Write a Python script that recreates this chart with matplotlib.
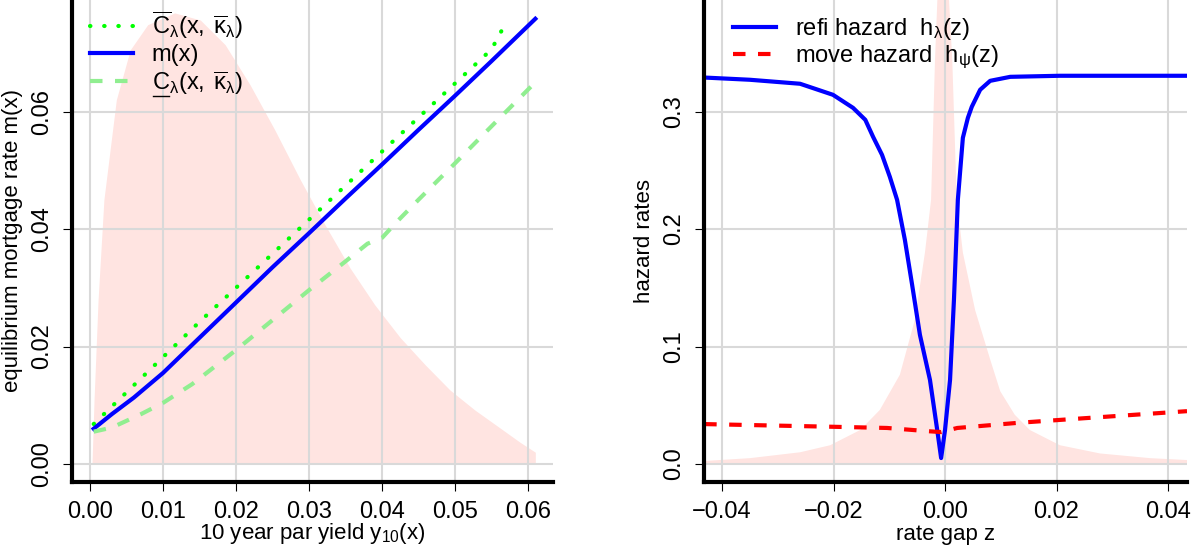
import numpy as np
import matplotlib
matplotlib.use('Agg')
import matplotlib.pyplot as plt
from matplotlib.lines import Line2D

plt.rcParams['font.family'] = ['Liberation Sans', 'DejaVu Sans']
plt.rcParams['mathtext.fontset'] = 'custom'
plt.rcParams['mathtext.rm'] = 'Liberation Sans'
plt.rcParams['mathtext.it'] = 'Liberation Sans'
plt.rcParams['mathtext.bf'] = 'Liberation Sans:bold'

# left panel: yield density (shaded) and mortgage rate curves
dens_x = [0.00027, 0.00055, 0.0011, 0.0019, 0.0036, 0.0055, 0.0079, 0.0116, 0.0151,
          0.0185, 0.0219, 0.0253, 0.0288, 0.0322, 0.0356, 0.0390, 0.0425, 0.0459,
          0.0493, 0.0527, 0.0562, 0.0589, 0.0610]
dens_y = [0.0, 0.0109, 0.0279, 0.0450, 0.0620, 0.0705, 0.0748, 0.0768, 0.0756,
          0.0714, 0.0646, 0.0569, 0.0484, 0.0407, 0.0334, 0.0271, 0.0215, 0.0169,
          0.0126, 0.0092, 0.0061, 0.0037, 0.0020]

cup_x = [0.0005, 0.005, 0.01, 0.015, 0.02, 0.025, 0.03, 0.035, 0.04, 0.045, 0.05, 0.055, 0.057]
cup_y = [0.0068, 0.0122, 0.0182, 0.0242, 0.030, 0.0358, 0.0416, 0.0474, 0.0532, 0.059,
         0.0648, 0.0706, 0.0752]

m_x = [0.0005, 0.003, 0.006, 0.01, 0.015, 0.02, 0.025, 0.03, 0.035, 0.04, 0.045, 0.05, 0.055, 0.061]
m_y = [0.0060, 0.0085, 0.0113, 0.0155, 0.0215, 0.0275, 0.0335, 0.0393, 0.0452, 0.0510,
       0.0569, 0.0627, 0.0686, 0.0758]

clo_x = [0.0005, 0.003, 0.007, 0.01, 0.014, 0.02, 0.025, 0.03, 0.035, 0.038, 0.04, 0.042,
         0.045, 0.05, 0.055, 0.061]
clo_y = [0.0055, 0.0062, 0.0085, 0.0104, 0.0136, 0.0194, 0.0245, 0.0296, 0.0345, 0.0375,
         0.0385, 0.0412, 0.0450, 0.0512, 0.0575, 0.0650]

# right panel: rate gap density and hazards
gap_z = [-0.0432, -0.035, -0.026, -0.0206, -0.0152, -0.0117, -0.0081, -0.0054, -0.0036,
         -0.0025, -0.0018, -0.0005, 0.0013, 0.0021, 0.0032, 0.0054, 0.0081, 0.0099,
         0.0125, 0.0152, 0.0206, 0.0278, 0.0368, 0.0434]
gap_d = [0.0026, 0.005, 0.010, 0.016, 0.029, 0.046, 0.076, 0.123, 0.18,
         0.225, 0.344, 0.50, 0.344, 0.225, 0.18, 0.131, 0.089, 0.062,
         0.042, 0.029, 0.016, 0.009, 0.005, 0.0034]

refi_z = [-0.0432, -0.035, -0.026, -0.0201, -0.0165, -0.0143, -0.0129, -0.0113, -0.0099,
          -0.0086, -0.0072, -0.0059, -0.0045, -0.0027, -0.0014, -0.0007, 0.0, 0.0009,
          0.0016, 0.0023, 0.0032, 0.0041, 0.0048, 0.0063, 0.0081, 0.0117, 0.0206, 0.0434]
refi_h = [0.3290, 0.3271, 0.3237, 0.3143, 0.3032, 0.2930, 0.2785, 0.2632, 0.2445,
          0.2249, 0.1908, 0.1525, 0.1099, 0.0716, 0.0290, 0.0051, 0.0290, 0.0716,
          0.1397, 0.2249, 0.2777, 0.2947, 0.3041, 0.3186, 0.3262, 0.3296, 0.3305, 0.3305]

move_z = [-0.0432, -0.02, -0.0104, -0.0032, -0.0007, 0.0022, 0.0129, 0.025, 0.0434]
move_h = [0.034, 0.0317, 0.0307, 0.028, 0.0272, 0.0307, 0.035, 0.039, 0.045]

lab_up = r'$\overline{\mathrm{C}}_\lambda\mathrm{(x,}\;\overline{\kappa}_\lambda\mathrm{)}$'
lab_lo = r'$\mathrm{C}_\lambda\mathrm{(x,}\;\overline{\kappa}_\lambda\mathrm{)}$'

grid_c = '#D9D9D9'
pink = '#FFE4E1'
fs_tick = 17
fs_leg = 17
fs_lab = 16

fig = plt.figure(figsize=(11.94, 5.48), dpi=100)
ax1 = fig.add_axes([72 / 1194, 66 / 548, 481 / 1194, 482 / 548])
ax2 = fig.add_axes([704 / 1194, 66 / 548, 483 / 1194, 482 / 548])


def style(ax):
    for s in ['top', 'right']:
        ax.spines[s].set_visible(False)
    for s in ['left', 'bottom']:
        ax.spines[s].set_linewidth(3)
        ax.spines[s].set_capstyle('projecting')
    ax.tick_params(direction='out', length=6.5, width=0.8, labelsize=fs_tick, pad=7)
    ax.set_axisbelow('line')
    ax.grid(True, color=grid_c, lw=1.5)
    for t in ax.get_yticklabels():
        t.set_rotation(90)
        t.set_va('center')


# left
ax1.fill_between(dens_x, 0, dens_y, color=pink, lw=0, zorder=1)
ax1.plot(cup_x, cup_y, color='#00FF00', lw=3, ls=(0, (0.1, 3.3)), dash_capstyle='round',
         label=lab_up, zorder=2)
ax1.plot(m_x, m_y, color='#0000FF', lw=3, label='m(x)', zorder=2)
ax1.plot(clo_x, clo_y, color='#90EE90', lw=3, ls=(0, (3, 3)), label=lab_lo, zorder=2)
ax1.set_xlim(-0.00247, 0.06342)
ax1.set_ylim(-0.00307, 0.0790)
ax1.set_xticks([0.00, 0.01, 0.02, 0.03, 0.04, 0.05, 0.06])
ax1.set_xticklabels(['0.00', '0.01', '0.02', '0.03', '0.04', '0.05', '0.06'])
ax1.set_yticks([0.00, 0.02, 0.04, 0.06])
ax1.set_yticklabels(['0.00', '0.02', '0.04', '0.06'])
style(ax1)
ax1.set_xlabel(r'10 year par yield y$_{10}$(x)', fontsize=fs_lab, labelpad=-1)
ax1.set_ylabel('equilibrium mortgage rate m(x)', fontsize=fs_lab, labelpad=6)
leg1 = ax1.legend(loc='upper left', bbox_to_anchor=(0.037, 0.981), frameon=False,
                  fontsize=fs_leg, handlelength=1.82, handletextpad=0.8, labelspacing=0.12,
                  borderpad=0, borderaxespad=0)

# right
ax2.fill_between(gap_z, 0, gap_d, color=pink, lw=0, zorder=1)
ax2.plot(refi_z, refi_h, color='#0000FF', lw=3, label=r'refi hazard  h$_\lambda$(z)', zorder=2)
ax2.plot(move_z, move_h, color='#FF0000', lw=3, ls=(0, (3, 3)),
         label=r'move hazard  h$_\psi$(z)', zorder=2)
ax2.set_xlim(-0.04323, 0.0434)
ax2.set_ylim(-0.0153, 0.395)
ax2.set_xticks([-0.04, -0.02, 0.00, 0.02, 0.04])
ax2.set_xticklabels(['\u22120.04', '\u22120.02', '0.00', '0.02', '0.04'])
ax2.set_yticks([0.0, 0.1, 0.2, 0.3])
ax2.set_yticklabels(['0.0', '0.1', '0.2', '0.3'])
style(ax2)
ax2.set_xlabel('rate gap z', fontsize=fs_lab, labelpad=1)
ax2.set_ylabel('hazard rates', fontsize=fs_lab, labelpad=6)
ax2.legend(loc='upper left', bbox_to_anchor=(0.06, 0.966), frameon=False, fontsize=fs_leg,
           handlelength=1.82, handletextpad=0.8, labelspacing=0.05, borderpad=0,
           borderaxespad=0)

# underline the C of the lower bound label (mathtext has no \underline)
fig.canvas.draw()
rend = fig.canvas.get_renderer()
bb = leg1.get_texts()[2].get_window_extent(rend)
tmp = fig.text(0, 0, 'C', fontsize=fs_leg)
cw = tmp.get_window_extent(rend).width
tmp.remove()
W, H = fig.bbox.width, fig.bbox.height
fig.add_artist(Line2D([(bb.x0 + 1) / W, (bb.x0 + cw) / W], [(bb.y0 + 1) / H, (bb.y0 + 1) / H],
                      transform=fig.transFigure, color='black', lw=1))

fig.savefig('out.png', dpi=100)
